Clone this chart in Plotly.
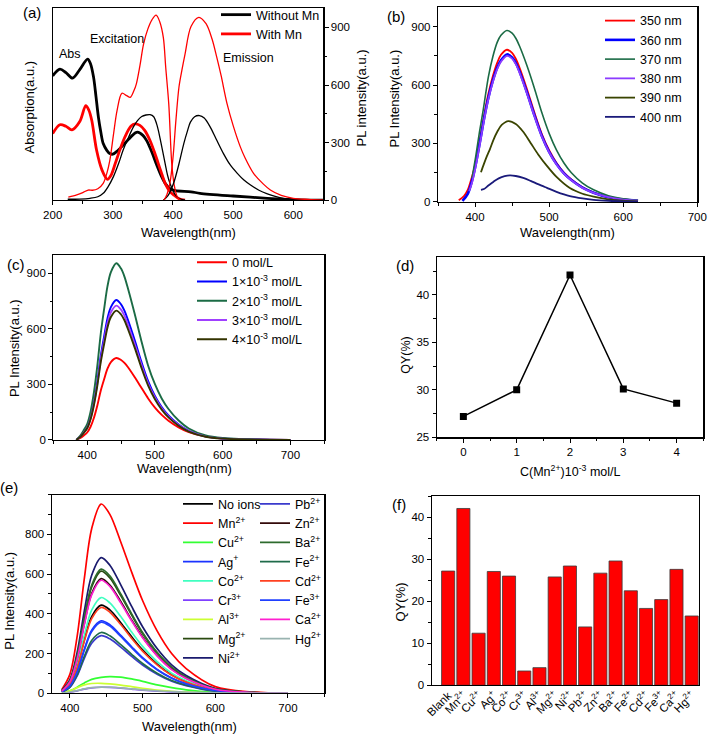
import plotly.graph_objects as go

# ================= DATA =================
# (a) absorption (arbitrary units, fraction of axis), excitation & emission (PL a.u.)
A_ABS_WL_0 = [200, 212, 222, 233, 245, 258, 263, 268, 272, 276, 280, 284, 290, 295, 300, 308, 317, 327, 337, 341,
              350, 356, 365, 373, 380, 387, 395, 404, 430, 445, 500, 557, 612, 650]
A_ABS_0 = [0.648, 0.683, 0.665, 0.636, 0.680, 0.735, 0.710, 0.640, 0.540, 0.433, 0.355, 0.295, 0.260, 0.243, 0.240,
           0.258, 0.286, 0.320, 0.350, 0.355, 0.338, 0.312, 0.250, 0.183, 0.130, 0.088, 0.060, 0.050, 0.044, 0.036,
           0.022, 0.010, 0.002, 0.0]
A_ABS_WL_MN = [200, 212, 222, 232, 245, 255, 260, 265, 273, 282, 291, 297, 304, 312, 320, 330, 337, 345, 353, 362,
               370, 380, 387, 395, 401, 410, 420]
A_ABS_MN = [0.347, 0.393, 0.385, 0.367, 0.410, 0.493, 0.470, 0.415, 0.260, 0.157, 0.109, 0.130, 0.191, 0.265, 0.329,
            0.385, 0.398, 0.390, 0.364, 0.310, 0.243, 0.150, 0.088, 0.045, 0.028, 0.008, 0.0]
A_EXC_WL_0 = [225, 245, 262, 275, 284, 292, 301, 310, 317, 325, 334, 341, 348, 355, 362, 368, 374, 380, 387, 391,
              395, 400, 404, 410, 420]
A_EXC_0 = [5, 6, 10, 18, 36, 70, 123, 195, 260, 320, 381, 415, 436, 444, 446, 435, 385, 300, 191, 130, 88, 50, 28, 10, 0]
A_EXC_WL_MN = [226, 240, 250, 259, 266, 275, 284, 290, 295, 301, 307, 315, 323, 329, 335, 339, 345, 351, 358, 365,
               372, 378, 384, 388, 393, 398, 402, 407, 412]
A_EXC_MN = [16, 28, 40, 53, 52, 60, 88, 140, 208, 340, 467, 557, 545, 536, 570, 605, 700, 812, 890, 940, 964, 930,
            847, 690, 502, 191, 80, 19, 0]
A_EM_WL_0 = [384, 392, 401, 410, 418, 424, 429, 436, 444, 452, 462, 472, 484, 495, 507, 518, 529, 543, 557, 570, 584,
             600, 620, 650]
A_EM_0 = [0, 25, 88, 190, 295, 360, 407, 435, 441, 428, 381, 318, 243, 185, 140, 105, 79, 52, 33, 20, 10, 5, 2, 0]
A_EM_WL_MN = [385, 390, 395, 400, 405, 410, 415, 420, 430, 443, 455, 465, 473, 480, 490, 500, 512, 520, 534, 550, 562,
              580, 600, 625, 650]
A_EM_MN = [0, 30, 90, 220, 420, 590, 680, 760, 905, 953, 920, 840, 743, 650, 502, 390, 278, 220, 140, 85, 53, 25, 10,
           4, 0]

# (b) PL under different excitation wavelengths
B_NAMES = ["350 nm", "360 nm", "370 nm", "380 nm", "390 nm", "400 nm"]
B_WL_350 = [378, 385, 390, 396, 400, 406, 413, 418, 424, 430, 435, 443, 450, 455, 460, 470, 480, 490, 500, 510, 520,
            530, 545, 560, 580, 600, 620]
B_350 = [9, 30, 60, 131, 190, 310, 460, 555, 645, 715, 755, 781, 765, 735, 690, 580, 460, 350, 265, 200, 150, 115, 75,
         48, 25, 13, 7]
B_WL_360 = [383, 390, 396, 400, 406, 413, 418, 424, 430, 435, 443, 450, 455, 460, 470, 480, 490, 500, 510, 520, 530,
            545, 560, 580, 600, 620]
B_360 = [5, 40, 110, 175, 295, 443, 535, 622, 690, 727, 757, 742, 713, 670, 563, 446, 340, 257, 194, 146, 112, 73, 47,
         24, 12, 6]
B_WL_370 = [396, 401, 406, 411, 418, 424, 430, 435, 443, 450, 455, 460, 470, 480, 490, 500, 510, 520, 530, 545, 560,
            580, 600, 620]
B_370 = [122, 235, 360, 471, 642, 745, 820, 855, 880, 866, 840, 800, 700, 585, 460, 352, 266, 200, 150, 97, 62, 32, 16, 8]
B_WL_380 = [392, 396, 400, 406, 413, 418, 424, 430, 435, 443, 450, 455, 460, 470, 480, 490, 500, 510, 520, 530, 545,
            560, 580, 600, 620]
B_380 = [55, 100, 165, 285, 436, 528, 615, 683, 720, 750, 735, 707, 664, 558, 442, 337, 255, 192, 145, 111, 72, 46, 24,
         12, 6]
B_WL_390 = [408, 412, 416, 420, 425, 430, 436, 445, 455, 465, 475, 485, 497, 510, 528, 545, 560, 580, 600, 620]
B_390 = [152, 195, 235, 270, 320, 360, 395, 415, 400, 360, 303, 245, 185, 128, 71, 42, 27, 13, 6, 3]
B_WL_400 = [408, 412, 418, 425, 432, 440, 447, 455, 465, 475, 485, 497, 510, 528, 545, 560, 580, 600, 620]
B_400 = [62, 66, 84, 104, 121, 132, 136, 133, 123, 108, 91, 72, 52, 30, 18, 11, 6, 3, 1]

# (c) PL for different Mn2+ concentrations
C_WL = [384, 390, 395, 400, 405, 410, 415, 420, 425, 430, 435, 443, 450, 455, 460, 470, 480, 490, 500, 510, 520, 535,
        550, 575, 600, 650, 700]
C_0 = [0, 11, 24, 40, 71, 120, 186, 266, 328, 385, 421, 443, 432, 416, 394, 340, 282, 224, 174, 135, 104, 68, 42, 18,
       8, 2, 0]
C_1 = [0, 19, 42, 68, 121, 204, 318, 454, 559, 658, 718, 756, 733, 699, 650, 541, 423, 318, 238, 178, 132, 83, 49, 19,
       8, 2, 0]
C_2 = [0, 24, 53, 86, 153, 258, 401, 573, 707, 831, 907, 955, 926, 883, 821, 683, 535, 401, 301, 224, 167, 105, 62, 24,
       10, 2, 0]
C_3 = [0, 18, 40, 65, 116, 196, 305, 436, 537, 632, 690, 726, 704, 672, 624, 519, 407, 305, 229, 171, 127, 80, 47, 18,
       7, 1, 0]
C_4 = [0, 17, 38, 63, 112, 189, 294, 419, 517, 608, 664, 699, 678, 647, 601, 500, 391, 294, 220, 164, 122, 77, 45, 17,
       7, 1, 0]
C_NAMES = ["0 mol/L", "1×10<sup>-3</sup> mol/L", "2×10<sup>-3</sup> mol/L", "3×10<sup>-3</sup> mol/L",
           "4×10<sup>-3</sup> mol/L"]

# (d) QY vs Mn2+ concentration
D_CONC = [0, 1, 2, 3, 4]
D_QY = [27.2, 30.0, 42.1, 30.1, 28.6]

# (e) PL with different metal ions
E_WL = [389, 400, 410, 420, 430, 443, 455, 470, 485, 500, 520, 540, 560, 600, 650, 700]
E_NOIONS = [9, 44, 133, 271, 386, 444, 420, 355, 284, 218, 147, 93, 58, 16, 3, 0]
E_MN = [19, 95, 286, 581, 829, 953, 901, 762, 610, 467, 314, 200, 124, 33, 6, 0]
E_CU = [3, 12, 30, 52, 70, 80, 84, 81, 72, 60, 42, 28, 17, 5, 1, 0]
E_AG = [7, 37, 110, 223, 318, 365, 345, 292, 234, 179, 120, 77, 47, 13, 2, 0]
E_CO = [10, 48, 145, 294, 419, 482, 455, 386, 308, 236, 159, 101, 63, 17, 3, 0]
E_CR = [1, 5, 12, 21, 27, 30, 29, 26, 21, 16, 11, 7, 4, 1, 0, 0]
E_AL = [2, 12, 28, 42, 49, 50, 47, 41, 33, 25, 16, 10, 6, 2, 0, 0]
E_MG = [12, 62, 185, 375, 535, 615, 581, 492, 394, 301, 203, 129, 80, 22, 4, 0]
E_NI = [14, 68, 205, 417, 594, 683, 645, 546, 437, 335, 225, 143, 89, 24, 4, 0]
E_PB = [6, 29, 87, 177, 252, 290, 274, 232, 186, 142, 96, 61, 38, 10, 2, 0]
E_ZN = [12, 58, 173, 352, 502, 577, 545, 462, 369, 283, 190, 121, 75, 20, 3, 0]
E_BA = [13, 63, 188, 381, 544, 625, 591, 500, 400, 306, 206, 131, 81, 22, 4, 0]
E_FE2 = [6, 31, 92, 187, 266, 306, 289, 245, 196, 150, 101, 64, 40, 11, 2, 0]
E_CD = [9, 43, 130, 264, 376, 432, 408, 346, 276, 212, 143, 91, 56, 15, 3, 0]
E_FE3 = [7, 36, 107, 218, 311, 358, 338, 286, 229, 175, 118, 75, 47, 13, 2, 0]
E_CA = [11, 57, 171, 347, 495, 569, 538, 455, 364, 279, 188, 119, 74, 20, 3, 0]
E_HG = [1, 6, 13, 22, 28, 31, 30, 27, 22, 17, 12, 8, 5, 2, 0, 0]
E_NAMES_1 = ["No ions", "Mn<sup>2+</sup>", "Cu<sup>2+</sup>", "Ag<sup>+</sup>", "Co<sup>2+</sup>", "Cr<sup>3+</sup>",
             "Al<sup>3+</sup>", "Mg<sup>2+</sup>", "Ni<sup>2+</sup>"]
E_NAMES_2 = ["Pb<sup>2+</sup>", "Zn<sup>2+</sup>", "Ba<sup>2+</sup>", "Fe<sup>2+</sup>", "Cd<sup>2+</sup>",
             "Fe<sup>3+</sup>", "Ca<sup>2+</sup>", "Hg<sup>2+</sup>"]

# (f) QY with different ions
F_IONS = ["Blank", "Mn<sup>2+</sup>", "Cu<sup>2+</sup>", "Ag<sup>+</sup>", "Co<sup>2+</sup>", "Cr<sup>3+</sup>",
          "Al<sup>3+</sup>", "Mg<sup>2+</sup>", "Ni<sup>2+</sup>", "Pb<sup>2+</sup>", "Zn<sup>2+</sup>",
          "Ba<sup>2+</sup>", "Fe<sup>2+</sup>", "Cd<sup>2+</sup>", "Fe<sup>3+</sup>", "Ca<sup>2+</sup>",
          "Hg<sup>2+</sup>"]
F_QY = [27.2, 42.1, 12.4, 27.1, 26.0, 3.4, 4.2, 25.8, 28.4, 13.9, 26.7, 29.6, 22.5, 18.3, 20.4, 27.6, 16.5]

# ================= FIGURE =================
W, H = 708, 734
FONT = "Arial, 'Liberation Sans', Helvetica, sans-serif"


def fx(px):
    return px / W


def fy(py):
    return 1 - py / H


fig = go.Figure()


def line(x, y, color, width, xa, ya, name=None, legend=None, show=False):
    fig.add_trace(go.Scatter(
        x=x, y=y, mode="lines", name=name, xaxis=xa, yaxis=ya,
        line=dict(color=color, width=width, shape="spline", smoothing=0.9),
        showlegend=show, legend=legend, hoverinfo="skip"))


# ---- (a)
line(A_ABS_WL_0, A_ABS_0, "black", 2.8, "x", "y", "Without Mn", "legend", True)
line(A_ABS_WL_MN, A_ABS_MN, "#FF0000", 2.8, "x", "y", "With Mn", "legend", True)
line(A_EXC_WL_0, A_EXC_0, "black", 1.3, "x", "y2")
line(A_EXC_WL_MN, A_EXC_MN, "#FF0000", 1.3, "x", "y2")
line(A_EM_WL_0, A_EM_0, "black", 1.3, "x", "y2")
line(A_EM_WL_MN, A_EM_MN, "#FF0000", 1.3, "x", "y2")

# ---- (b)
B_SERIES = [(B_WL_350, B_350, "#FF0000", 1.8), (B_WL_360, B_360, "#0000FF", 2.6), (B_WL_370, B_370, "#1B6B45", 1.6),
            (B_WL_380, B_380, "#8C3CFF", 1.8), (B_WL_390, B_390, "#3A4400", 1.8), (B_WL_400, B_400, "#1A1A7A", 1.8)]
for nm, (bx, by, col, wd) in zip(B_NAMES, B_SERIES):
    line(bx, by, col, wd, "x2", "y3", nm, "legend2", True)

# ---- (c)
C_SERIES = [(C_0, "#FF0000"), (C_1, "#0000FF"), (C_2, "#1B6B45"), (C_3, "#A040FF"), (C_4, "#333300")]
for nm, (cy, col) in zip(C_NAMES, C_SERIES):
    line(C_WL, cy, col, 1.9, "x3", "y4", nm, "legend3", True)

# ---- (d)
fig.add_trace(go.Scatter(x=D_CONC, y=D_QY, mode="lines+markers", xaxis="x4", yaxis="y5", showlegend=False,
                         line=dict(color="black", width=1.5),
                         marker=dict(symbol="square", size=7, color="black"), hoverinfo="skip"))

# ---- (e)
E_SER_1 = [(E_NOIONS, "#000000"), (E_MN, "#FF0000"), (E_CU, "#33FF33"), (E_AG, "#1A33FF"), (E_CO, "#40FFC0"),
           (E_CR, "#8040FF"), (E_AL, "#CCFF33"), (E_MG, "#2A4A10"), (E_NI, "#1A1A6E")]
E_SER_2 = [(E_PB, "#3A3ACC"), (E_ZN, "#330A0A"), (E_BA, "#2D6B2D"), (E_FE2, "#1F6B4A"), (E_CD, "#FF4020"),
           (E_FE3, "#2040FF"), (E_CA, "#FF20D0"), (E_HG, "#99B3B0")]
for nm, (ey, col) in zip(E_NAMES_1, E_SER_1):
    line(E_WL, ey, col, 1.7, "x5", "y6", nm, "legend4", True)
for nm, (ey, col) in zip(E_NAMES_2, E_SER_2):
    line(E_WL, ey, col, 1.7, "x5", "y6", nm, "legend5", True)

# ---- (f)
fig.add_trace(go.Bar(x=F_IONS, y=F_QY, xaxis="x6", yaxis="y7", showlegend=False,
                     marker=dict(color="#FF0000", line=dict(color="#3a3a3a", width=0.8)), hoverinfo="skip"))

# ================= AXES =================
TICKFONT = dict(size=11.5, color="black", family=FONT)


def ax(**kw):
    d = dict(showline=True, linecolor="black", linewidth=1.2, mirror=True, ticks="outside", ticklen=4,
             tickwidth=1, tickcolor="black", showgrid=False, zeroline=False, tickfont=TICKFONT, automargin=False,
             fixedrange=True)
    d.update(kw)
    return d


def minor(dt):
    return dict(ticks="outside", ticklen=2.5, tickwidth=1, tickcolor="black", dtick=dt, showgrid=False)


layout = dict(
    width=W, height=H, margin=dict(l=0, r=0, t=0, b=0), template="none",
    paper_bgcolor="white", plot_bgcolor="white", font=dict(family=FONT, size=12, color="black"),
    bargap=0.14,
    # (a)
    xaxis=ax(domain=[fx(52.7), fx(323.3)], anchor="y", range=[200, 650], tick0=200, dtick=100, minor=minor(50)),
    yaxis=ax(domain=[fy(197.3), fy(4.3)], anchor="x", range=[0, 1.0], ticks="", showticklabels=False),
    yaxis2=ax(overlaying="y", side="right", anchor="x", range=[0, 1000], tickvals=[0, 300, 600, 900],
              minor=minor(150), mirror=False),
    # (b)
    xaxis2=ax(domain=[fx(438), fx(697.3)], anchor="y3", range=[350, 700], tick0=400, dtick=100, minor=minor(50)),
    yaxis3=ax(domain=[fy(199), fy(3.1)], anchor="x2", range=[0, 1000], tickvals=[0, 300, 600, 900],
              minor=minor(150)),
    # (c)
    xaxis3=ax(domain=[fx(53.3), fx(324.3)], anchor="y4", range=[350, 750], tick0=400, dtick=100, minor=minor(50)),
    yaxis4=ax(domain=[fy(438.3), fy(252.3)], anchor="x3", range=[0, 1000], tickvals=[0, 300, 600, 900],
              minor=minor(150)),
    # (d)
    xaxis4=ax(domain=[fx(436.7), fx(703.3)], anchor="y5", range=[-0.5, 4.5], tick0=0, dtick=1, minor=minor(0.5)),
    yaxis5=ax(domain=[fy(435.7), fy(254.3)], anchor="x4", range=[25, 44], tick0=25, dtick=5, minor=minor(2.5)),
    # (e)
    xaxis5=ax(domain=[fx(51.7), fx(324.3)], anchor="y6", range=[375, 750], tick0=400, dtick=100, minor=minor(50)),
    yaxis6=ax(domain=[fy(693.0), fy(493.4)], anchor="x5", range=[0, 1000], tickvals=[0, 200, 400, 600, 800],
              minor=minor(100)),
    # (f)
    xaxis6=ax(domain=[fx(431.7), fx(699)], anchor="y7", type="category", range=[-1.08, 16.48], ticks="",
              tickangle=-45, ticklabelstandoff=-2, tickfont=dict(size=11.5, color="black", family=FONT)),
    yaxis7=ax(domain=[fy(685), fy(495)], anchor="x6", range=[0, 45], tickvals=[0, 10, 20, 30, 40], minor=minor(5)),
)

LEG = dict(bgcolor="rgba(0,0,0,0)", borderwidth=0, xanchor="left", yanchor="top", tracegroupgap=0, itemwidth=30,
           font=dict(size=12.5, color="black", family=FONT), itemclick=False, itemdoubleclick=False)
layout["legend"] = dict(x=fx(216), y=fy(-4), **LEG)
layout["legend2"] = dict(x=fx(600), y=fy(2), **LEG)
layout["legend3"] = dict(x=fx(192), y=fy(245), **LEG)
layout["legend4"] = dict(x=fx(178), y=fy(488), **LEG)
layout["legend5"] = dict(x=fx(255), y=fy(488), **LEG)


def ann(text, px, py, size=12.5, angle=0):
    return dict(text=text, x=fx(px), y=fy(py), xref="paper", yref="paper", showarrow=False, textangle=angle,
                xanchor="center", yanchor="middle", font=dict(size=size, color="black", family=FONT))


layout["annotations"] = [
    # panel labels
    ann("(a)", 32, 9, 15), ann("(b)", 396, 13, 15), ann("(c)", 16, 262, 15),
    ann("(d)", 405, 263, 15), ann("(e)", 9, 486, 15), ann("(f)", 399, 503, 15),
    # panel (a) texts
    ann("Abs", 69.5, 50), ann("Excitation", 116.7, 35), ann("Emission", 248, 54),
    # axis titles
    ann("Wavelength(nm)", 188, 230, 13), ann("Absorption(a.u.)", 29, 103, 13, -90),
    ann("PL intensity(a.u.)", 361, 95, 13, -90),
    ann("Wavelength(nm)", 567, 230, 13), ann("PL Intensity(a.u.)", 394, 95, 13, -90),
    ann("Wavelength(nm)", 184, 467, 13), ann("PL Intensity(a.u.)", 14, 346, 13, -90),
    ann("C(Mn<sup>2+</sup>)10<sup>-3</sup> mol/L", 570, 470, 12.5), ann("QY(%)", 405.7, 353, 12.5, -90),
    ann("Wavelength(nm)", 189, 726, 13), ann("PL Intensity(a.u.)", 10, 600, 13, -90),
    ann("QY(%)", 400.7, 601, 13, -90),
]

fig.update_layout(**layout)
fig.write_html("out.html", config={"displayModeBar": False, "staticPlot": True},
               post_script="document.body.style.margin='0px';document.body.style.padding='0px';")
